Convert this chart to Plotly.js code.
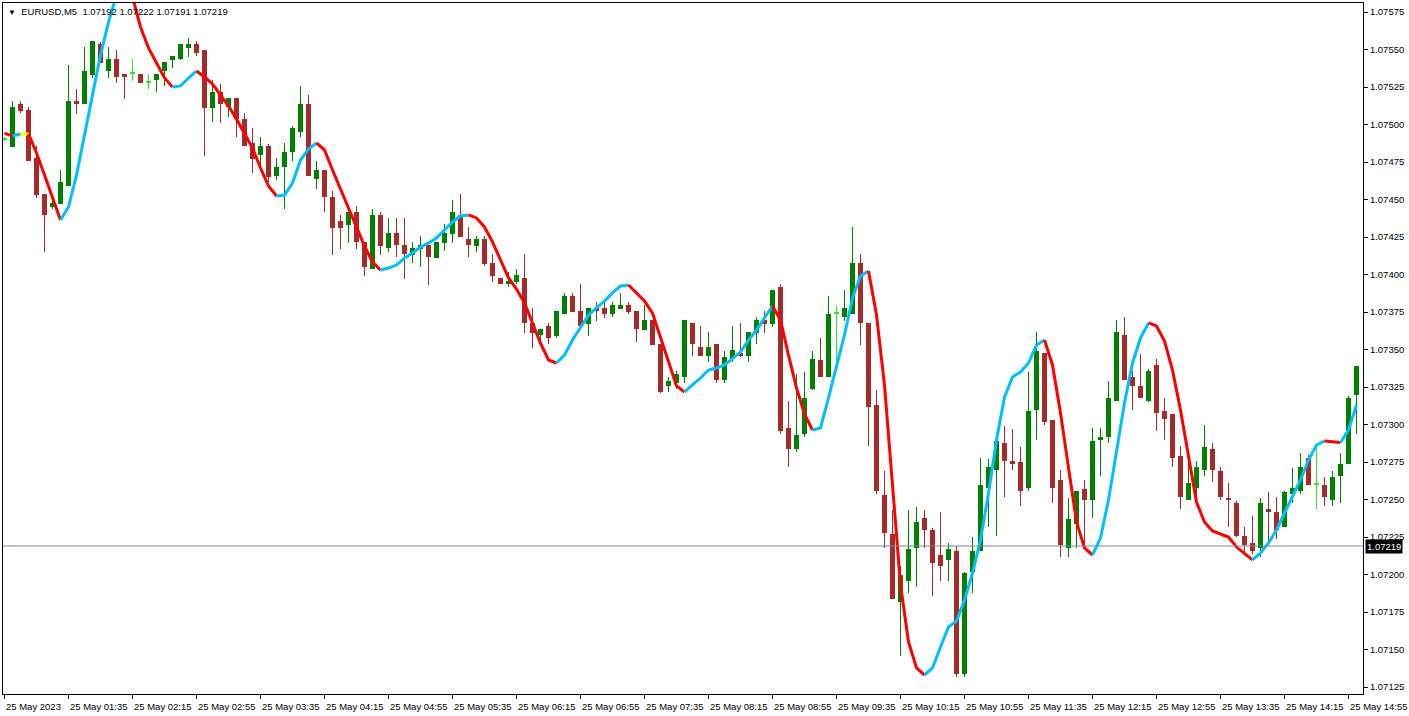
<!DOCTYPE html>
<html><head><meta charset="utf-8">
<script src="https://cdn.plot.ly/plotly-3.0.1.min.js"></script>
<style>html,body{margin:0;padding:0;background:#fff;overflow:hidden}#chart{width:1409px;height:716px}</style>
</head><body><div id="chart"></div>
<script>
// ---- Data (EURUSD M5, 25 May 2023, 00:55 .. 15:00) ----
const symbolText = 'EURUSD,M5';
const quoteText = '1.07192 1.07222 1.07191 1.07219';
const bidPrice = 1.07219;

const openP = [
1.07490,1.07485,1.07514,1.07510,1.07478,1.07454,1.07445,1.07447,1.07459,1.07516,
1.07514,1.07533,1.07554,1.07536,1.07544,1.07534,1.07534,1.07534,1.07528,1.07530,
1.07536,1.07543,1.07544,1.07551,1.07554,1.07550,1.07511,1.07522,1.07512,1.07518,
1.07504,1.07488,1.07480,1.07486,1.07466,1.07472,1.07482,1.07495,1.07514,1.07464,
1.07470,1.07452,1.07436,1.07433,1.07442,1.07422,1.07404,1.07440,1.07418,1.07428,
1.07420,1.07413,1.07417,1.07420,1.07411,1.07421,1.07427,1.07440,1.07424,1.07419,
1.07424,1.07408,1.07398,1.07394,1.07395,1.07398,1.07368,1.07360,1.07366,1.07359,
1.07374,1.07386,1.07376,1.07367,1.07378,1.07378,1.07374,1.07377,1.07380,1.07376,
1.07363,1.07370,1.07354,1.07326,1.07328,1.07332,1.07368,1.07352,1.07346,1.07354,
1.07330,1.07344,1.07348,1.07346,1.07361,1.07370,1.07367,1.07392,1.07298,1.07284,
1.07294,1.07324,1.07343,1.07332,1.07374,1.07372,1.07374,1.07408,1.07368,1.07313,
1.07253,1.07227,1.07182,1.07196,1.07218,1.07238,1.07230,1.07213,1.07210,1.07216,
1.07134,1.07202,1.07216,1.07258,1.07270,1.07288,1.07276,1.07275,1.07258,1.07310,
1.07348,1.07303,1.07263,1.07218,1.07234,1.07257,1.07250,1.07290,1.07292,1.07316,
1.07360,1.07332,1.07326,1.07316,1.07340,1.07309,1.07307,1.07279,1.07250,1.07258,
1.07270,1.07284,1.07269,1.07251,1.07248,1.07226,1.07221,1.07218,1.07244,1.07242,
1.07232,1.07254,1.07256,1.07278,1.07260,1.07260,1.07250,1.07266,1.07274,1.07320];

const highP = [
1.07492,1.07516,1.07516,1.07512,1.07486,1.07454,1.07450,1.07470,1.07540,1.07524,
1.07552,1.07556,1.07555,1.07552,1.07550,1.07534,1.07544,1.07534,1.07534,1.07534,
1.07542,1.07546,1.07554,1.07558,1.07556,1.07550,1.07530,1.07527,1.07518,1.07518,
1.07508,1.07498,1.07492,1.07487,1.07478,1.07488,1.07499,1.07526,1.07520,1.07476,
1.07470,1.07456,1.07440,1.07442,1.07446,1.07422,1.07444,1.07442,1.07438,1.07438,
1.07438,1.07422,1.07426,1.07420,1.07422,1.07434,1.07450,1.07454,1.07432,1.07426,
1.07426,1.07414,1.07398,1.07402,1.07404,1.07414,1.07378,1.07364,1.07368,1.07376,
1.07388,1.07388,1.07394,1.07378,1.07382,1.07382,1.07382,1.07388,1.07382,1.07376,
1.07380,1.07370,1.07354,1.07332,1.07336,1.07370,1.07368,1.07366,1.07362,1.07354,
1.07349,1.07366,1.07368,1.07362,1.07372,1.07376,1.07390,1.07394,1.07316,1.07334,
1.07335,1.07349,1.07358,1.07386,1.07380,1.07390,1.07432,1.07414,1.07368,1.07323,
1.07269,1.07243,1.07206,1.07243,1.07245,1.07243,1.07231,1.07242,1.07221,1.07219,
1.07202,1.07225,1.07278,1.07277,1.07289,1.07299,1.07297,1.07285,1.07335,1.07362,
1.07348,1.07303,1.07270,1.07251,1.07256,1.07263,1.07298,1.07298,1.07329,1.07370,
1.07372,1.07336,1.07347,1.07337,1.07344,1.07318,1.07307,1.07286,1.07276,1.07276,
1.07300,1.07288,1.07272,1.07261,1.07249,1.07232,1.07239,1.07251,1.07255,1.07252,
1.07256,1.07271,1.07281,1.07280,1.07285,1.07265,1.07269,1.07281,1.07319,1.07339];

const lowP = [
1.07489,1.07485,1.07508,1.07476,1.07451,1.07415,1.07444,1.07447,1.07459,1.07507,
1.07514,1.07531,1.07541,1.07531,1.07528,1.07517,1.07529,1.07528,1.07524,1.07522,
1.07526,1.07538,1.07543,1.07545,1.07546,1.07479,1.07502,1.07501,1.07505,1.07492,
1.07486,1.07468,1.07470,1.07462,1.07463,1.07444,1.07476,1.07492,1.07466,1.07457,
1.07442,1.07413,1.07417,1.07421,1.07417,1.07399,1.07404,1.07413,1.07415,1.07412,
1.07397,1.07408,1.07405,1.07393,1.07411,1.07416,1.07421,1.07425,1.07412,1.07415,
1.07406,1.07395,1.07394,1.07392,1.07394,1.07361,1.07351,1.07354,1.07354,1.07358,
1.07374,1.07375,1.07366,1.07359,1.07369,1.07371,1.07372,1.07377,1.07374,1.07355,
1.07363,1.07353,1.07321,1.07322,1.07324,1.07328,1.07346,1.07346,1.07342,1.07328,
1.07328,1.07342,1.07345,1.07342,1.07354,1.07361,1.07365,1.07294,1.07272,1.07282,
1.07292,1.07323,1.07332,1.07332,1.07340,1.07369,1.07374,1.07353,1.07286,1.07254,
1.07218,1.07184,1.07146,1.07188,1.07192,1.07218,1.07186,1.07196,1.07196,1.07132,
1.07132,1.07188,1.07216,1.07232,1.07226,1.07252,1.07270,1.07246,1.07256,1.07290,
1.07300,1.07248,1.07212,1.07212,1.07218,1.07218,1.07238,1.07266,1.07288,1.07316,
1.07330,1.07310,1.07318,1.07315,1.07296,1.07290,1.07272,1.07244,1.07250,1.07248,
1.07266,1.07262,1.07250,1.07232,1.07225,1.07214,1.07214,1.07212,1.07222,1.07224,
1.07232,1.07248,1.07254,1.07260,1.07244,1.07246,1.07246,1.07248,1.07274,1.07294];

const closeP = [
1.07490,1.07512,1.07509,1.07476,1.07453,1.07440,1.07448,1.07462,1.07516,1.07514,
1.07536,1.07556,1.07541,1.07544,1.07532,1.07532,1.07534,1.07528,1.07528,1.07534,
1.07542,1.07546,1.07554,1.07554,1.07548,1.07511,1.07522,1.07514,1.07518,1.07504,
1.07486,1.07477,1.07486,1.07465,1.07472,1.07482,1.07498,1.07514,1.07466,1.07470,
1.07452,1.07431,1.07431,1.07442,1.07422,1.07405,1.07440,1.07419,1.07428,1.07420,
1.07414,1.07418,1.07420,1.07412,1.07422,1.07428,1.07442,1.07425,1.07420,1.07424,
1.07407,1.07399,1.07394,1.07396,1.07400,1.07368,1.07361,1.07364,1.07358,1.07376,
1.07386,1.07375,1.07366,1.07378,1.07376,1.07374,1.07380,1.07380,1.07375,1.07364,
1.07370,1.07353,1.07322,1.07329,1.07334,1.07370,1.07354,1.07346,1.07352,1.07330,
1.07345,1.07350,1.07346,1.07362,1.07370,1.07367,1.07390,1.07296,1.07284,1.07293,
1.07318,1.07344,1.07332,1.07374,1.07374,1.07378,1.07408,1.07368,1.07312,1.07256,
1.07228,1.07184,1.07200,1.07217,1.07235,1.07230,1.07208,1.07206,1.07217,1.07134,
1.07201,1.07216,1.07260,1.07272,1.07289,1.07276,1.07274,1.07256,1.07309,1.07349,
1.07302,1.07258,1.07220,1.07237,1.07256,1.07250,1.07289,1.07292,1.07318,1.07362,
1.07330,1.07326,1.07318,1.07336,1.07308,1.07304,1.07278,1.07252,1.07261,1.07272,
1.07285,1.07270,1.07252,1.07250,1.07226,1.07220,1.07216,1.07248,1.07242,1.07230,
1.07255,1.07258,1.07272,1.07260,1.07260,1.07252,1.07265,1.07274,1.07318,1.07339];

// moving-average indicator value at each bar
const maLine = [
1.074943,1.074923,1.074937,1.074937,1.074810,1.074663,1.074510,1.074363,1.074450,1.074663,
1.074930,1.075197,1.075463,1.075683,1.075863,1.075910,1.075850,1.075650,1.075510,1.075410,
1.075310,1.075250,1.075257,1.075310,1.075357,1.075317,1.075270,1.075197,1.075123,1.075037,
1.074943,1.074843,1.074710,1.074590,1.074523,1.074530,1.074610,1.074763,1.074837,1.074877,
1.074830,1.074697,1.074570,1.074450,1.074323,1.074190,1.074083,1.074030,1.074043,1.074063,
1.074110,1.074143,1.074183,1.074210,1.074243,1.074297,1.074350,1.074390,1.074397,1.074377,
1.074317,1.074217,1.074097,1.073977,1.073903,1.073810,1.073677,1.073543,1.073430,1.073410,
1.073463,1.073563,1.073650,1.073730,1.073777,1.073823,1.073877,1.073923,1.073930,1.073877,
1.073823,1.073743,1.073577,1.073410,1.073257,1.073217,1.073263,1.073310,1.073363,1.073377,
1.073397,1.073437,1.073483,1.073563,1.073630,1.073710,1.073790,1.073697,1.073463,1.073243,
1.073070,1.072963,1.072977,1.073177,1.073383,1.073597,1.073843,1.073990,1.074023,1.073730,
1.073263,1.072597,1.071930,1.071550,1.071377,1.071330,1.071377,1.071517,1.071650,1.071690,
1.071830,1.072010,1.072230,1.072543,1.072897,1.073183,1.073317,1.073350,1.073410,1.073530,
1.073563,1.073397,1.073077,1.072717,1.072350,1.072177,1.072130,1.072243,1.072497,1.072830,
1.073143,1.073410,1.073577,1.073677,1.073657,1.073557,1.073363,1.073097,1.072783,1.072483,
1.072350,1.072290,1.072270,1.072250,1.072183,1.072143,1.072097,1.072143,1.072210,1.072297,
1.072410,1.072517,1.072630,1.072763,1.072863,1.072890,1.072887,1.072880,1.072963,1.073130];

// time-axis labels, one every 8 bars (40 minutes)
const timeLabels = ['25 May 2023','25 May 01:35','25 May 02:15','25 May 02:55','25 May 03:35',
'25 May 04:15','25 May 04:55','25 May 05:35','25 May 06:15','25 May 06:55','25 May 07:35',
'25 May 08:15','25 May 08:55','25 May 09:35','25 May 10:15','25 May 10:55','25 May 11:35',
'25 May 12:15','25 May 12:55','25 May 13:35','25 May 14:15','25 May 14:55'];

// ---- styling ----
const UP = '#008000', DOWN = '#A52A2A', DOJI = '#32E632';
const MA_UP = '#00BFFF', MA_DOWN = '#FF0000', MA_FLAT = '#FFFF00';
const FONT = 'Liberation Sans, Arial, sans-serif';
const FS = 9.5;

const idx = openP.map((_, i) => i);
const candleColor = idx.map(i => closeP[i] > openP[i] ? UP : (closeP[i] < openP[i] ? DOWN : DOJI));
const minBody = 0.000007;

const wicks = {
  type: 'bar', x: idx, base: lowP, y: idx.map(i => highP[i] - lowP[i]),
  width: 0.125, marker: {color: candleColor, line: {width: 0}}, hoverinfo: 'skip'
};
const bodies = {
  type: 'bar', x: idx, base: idx.map(i => Math.min(openP[i], closeP[i])),
  y: idx.map(i => Math.max(Math.abs(closeP[i] - openP[i]), minBody)),
  width: 0.625, marker: {color: candleColor, line: {width: 0}}, hoverinfo: 'skip'
};

// MA line coloured by slope
const segColor = k => maLine[k] > maLine[k-1] ? MA_UP : (maLine[k] < maLine[k-1] ? MA_DOWN : MA_FLAT);
const maTraces = [];
let start = 0, cur = segColor(1);
for (let k = 2; k <= maLine.length; k++) {
  const c = k < maLine.length ? segColor(k) : null;
  if (c !== cur) {
    const xs = [], ys = [];
    for (let j = start; j <= k - 1; j++) { xs.push(j); ys.push(maLine[j]); }
    maTraces.push({type: 'scatter', mode: 'lines', x: xs, y: ys,
      line: {color: cur, width: 3}, hoverinfo: 'skip'});
    start = k - 1; cur = c;
  }
}

const tickIdx = timeLabels.map((_, k) => k * 8);
const layout = {
  width: 1409, height: 716,
  margin: {l: 3, r: 46, t: 3, b: 22, pad: 0},
  paper_bgcolor: '#ffffff', plot_bgcolor: '#ffffff',
  showlegend: false, barmode: 'overlay', bargap: 0, hovermode: false,
  font: {family: FONT, size: FS, color: '#000'},
  xaxis: {
    range: [-0.1875, 169.8125], tickmode: 'array',
    tickvals: tickIdx, ticktext: timeLabels.map(() => ''),
    ticks: 'outside', ticklen: 4, tickcolor: '#000', tickwidth: 1,
    automargin: false,
    showgrid: false, zeroline: false, showline: true, mirror: true,
    linecolor: '#000', linewidth: 1, fixedrange: true
  },
  yaxis: {
    side: 'right', range: [1.0712033, 1.07581], automargin: false,
    tickmode: 'linear', tick0: 1.07125, dtick: 0.00025, tickformat: '.5f',
    ticks: 'outside', ticklen: 4, tickcolor: '#000', tickwidth: 1,
    showgrid: false, zeroline: false, showline: true, mirror: true,
    linecolor: '#000', linewidth: 1, fixedrange: true,
    tickfont: {family: FONT, size: FS, color: '#000'}
  },
  shapes: [{type: 'line', xref: 'paper', x0: 0, x1: 1, yref: 'y', y0: bidPrice, y1: bidPrice,
    line: {color: '#778899', width: 1}}],
  annotations: [
    {xref: 'paper', yref: 'paper', x: 0, y: 1, xanchor: 'left', yanchor: 'top', xshift: 3, yshift: -1,
     showarrow: false, align: 'left',
     text: '<span style="font-size:8px">▼</span>  ' + symbolText + '  ' + quoteText,
     font: {family: FONT, size: FS, color: '#000'}},
    {xref: 'paper', yref: 'y', x: 1, y: bidPrice, xanchor: 'left', yanchor: 'middle', xshift: 2,
     showarrow: false, text: bidPrice.toFixed(5), bgcolor: '#000000', borderpad: 1,
     font: {family: FONT, size: FS, color: '#ffffff'}},
    // time labels, left-aligned at their tick like the terminal draws them
    ...timeLabels.map((t, k) => ({
      xref: 'x', yref: 'paper', x: tickIdx[k], y: 0, xanchor: 'left', yanchor: 'top',
      xshift: -1, yshift: -5, showarrow: false, text: t, align: 'left',
      font: {family: FONT, size: FS, color: '#000'}
    }))
  ]
};

Plotly.newPlot('chart', [wicks, bodies, ...maTraces], layout, {staticPlot: true, displayModeBar: false});
</script>
</body></html>
